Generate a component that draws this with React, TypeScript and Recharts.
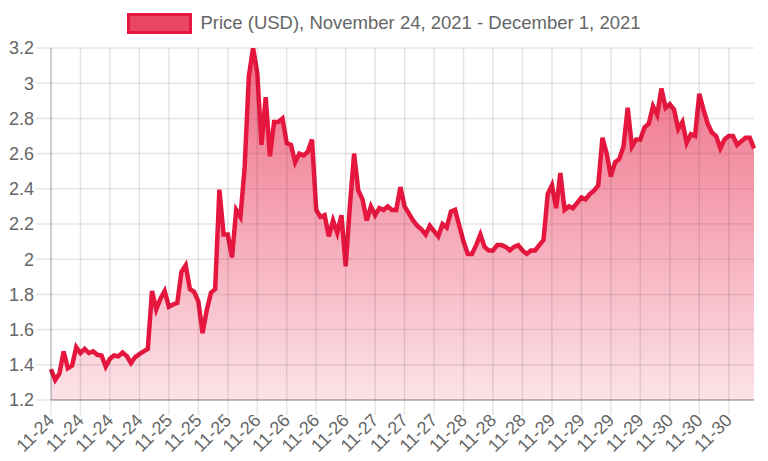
import { AreaChart, Area, XAxis, YAxis, CartesianGrid, ReferenceLine } from "recharts";

// hourly points, first one at 11-24 01:00
const dayNames = ["11-24", "11-25", "11-26", "11-27", "11-28", "11-29", "11-30", "12-01"];
const pointsPerDay = [23, 24, 24, 24, 24, 24, 24, 1];

const prices = [
  1.375, 1.314, 1.35, 1.476, 1.38, 1.395, 1.5, 1.467, 1.49, 1.467,
  1.476, 1.457, 1.453, 1.39, 1.434, 1.453, 1.448, 1.47, 1.45, 1.41,
  1.444, 1.461, 1.476, 1.49, 1.82, 1.714, 1.775, 1.819, 1.73, 1.743,
  1.752, 1.928, 1.965, 1.83, 1.815, 1.76, 1.58, 1.71, 1.81, 1.83,
  2.395, 2.14, 2.14, 2.01, 2.28, 2.24, 2.52, 3.04, 3.2, 3.06,
  2.65, 2.92, 2.585, 2.78, 2.78, 2.8, 2.66, 2.65, 2.55, 2.6,
  2.59, 2.61, 2.68, 2.28, 2.24, 2.25, 2.13, 2.22, 2.15, 2.25,
  1.96, 2.3, 2.6, 2.39, 2.34, 2.22, 2.3, 2.25, 2.29, 2.28,
  2.3, 2.28, 2.28, 2.41, 2.3, 2.26, 2.22, 2.19, 2.17, 2.14,
  2.19, 2.16, 2.13, 2.2, 2.18, 2.27, 2.28, 2.19, 2.1, 2.03,
  2.03, 2.08, 2.14, 2.07, 2.05, 2.05, 2.08, 2.08, 2.07, 2.05,
  2.07, 2.08, 2.05, 2.03, 2.05, 2.05, 2.08, 2.11, 2.37, 2.42,
  2.29, 2.49, 2.28, 2.3, 2.29, 2.32, 2.35, 2.34, 2.37, 2.39,
  2.42, 2.69, 2.6, 2.47, 2.55, 2.57, 2.64, 2.86, 2.64, 2.68,
  2.68, 2.75, 2.77, 2.87, 2.82, 2.97, 2.86, 2.88, 2.85, 2.74,
  2.78, 2.66, 2.71, 2.7, 2.94, 2.85, 2.77, 2.72, 2.7, 2.63,
  2.68, 2.7, 2.7, 2.65, 2.67, 2.69, 2.69, 2.63,
];

const yTicks = [1.2, 1.4, 1.6, 1.8, 2, 2.2, 2.4, 2.6, 2.8, 3, 3.2];
const TICK_EVERY = 7;

const dayLabels = dayNames.flatMap((d, k) => Array(pointsPerDay[k]).fill(d));
const data = prices.map((price, i) => ({ idx: i, price }));
const tickIdx = data.filter((d) => d.idx % TICK_EVERY === 0).map((d) => d.idx);

const FONT = '"Liberation Sans", Arial, Helvetica, sans-serif';
const RED = "#e5173f";
const GRID = "rgba(0,0,0,0.1)";

function XTick(props: any) {
  const { x, y, payload } = props;
  return (
    <text
      x={x}
      y={y}
      transform={`rotate(-45, ${x}, ${y})`}
      textAnchor="end"
      dy="0.35em"
      fill="#666"
      fontSize={18}
      fontFamily={FONT}
    >
      {dayLabels[payload.value]}
    </text>
  );
}

export default function App() {
  return (
    <div style={{ position: "absolute", left: 0, top: 0, width: 768, height: 461, background: "#fff" }}>
      <div
        style={{
          position: "absolute",
          top: 12,
          left: 0,
          width: 768,
          display: "flex",
          justifyContent: "center",
          alignItems: "center",
          fontFamily: FONT,
          fontSize: 18.5,
          color: "#666",
        }}
      >
        <span
          style={{
            display: "inline-block",
            width: 59,
            height: 15,
            background: "rgba(229,23,63,0.8)",
            border: `3px solid ${RED}`,
            marginRight: 8,
          }}
        />
        <span>Price (USD), November 24, 2021 - December 1, 2021</span>
      </div>
      <AreaChart width={768} height={461} data={data} margin={{ top: 48, right: 14, bottom: 0, left: 0 }}>
        <defs>
          <linearGradient id="priceFill" gradientUnits="userSpaceOnUse" x1="0" y1="48" x2="0" y2="400">
            <stop offset="0%" stopColor={RED} stopOpacity={0.64} />
            <stop offset="100%" stopColor={RED} stopOpacity={0.12} />
          </linearGradient>
        </defs>
        <CartesianGrid stroke={GRID} strokeWidth={1.5} vertical={false} />
        {tickIdx.map((i) => (
          <ReferenceLine key={i} x={i} stroke={GRID} strokeWidth={1.5} />
        ))}
        <XAxis
          dataKey="idx"
          type="category"
          ticks={tickIdx}
          interval={0}
          height={61}
          tickSize={15}
          tickMargin={2}
          tick={<XTick />}
          tickLine={{ stroke: GRID, strokeWidth: 1.5 }}
          axisLine={{ stroke: "rgba(0,0,0,0.25)", strokeWidth: 1.5 }}
        />
        <YAxis
          domain={[1.2, 3.2]}
          ticks={yTicks}
          allowDataOverflow
          width={51}
          tickSize={15}
          tickMargin={2}
          tickFormatter={(v: number) => String(Number(v.toFixed(1)))}
          tick={{ fill: "#666", fontSize: 18, fontFamily: FONT }}
          tickLine={{ stroke: GRID, strokeWidth: 1.5 }}
          axisLine={{ stroke: "rgba(0,0,0,0.25)", strokeWidth: 1.5 }}
        />
        <Area
          type="linear"
          dataKey="price"
          stroke={RED}
          strokeWidth={4.5}
          fill="url(#priceFill)"
          fillOpacity={1}
          dot={false}
          activeDot={false}
          isAnimationActive={false}
        />
      </AreaChart>
    </div>
  );
}
